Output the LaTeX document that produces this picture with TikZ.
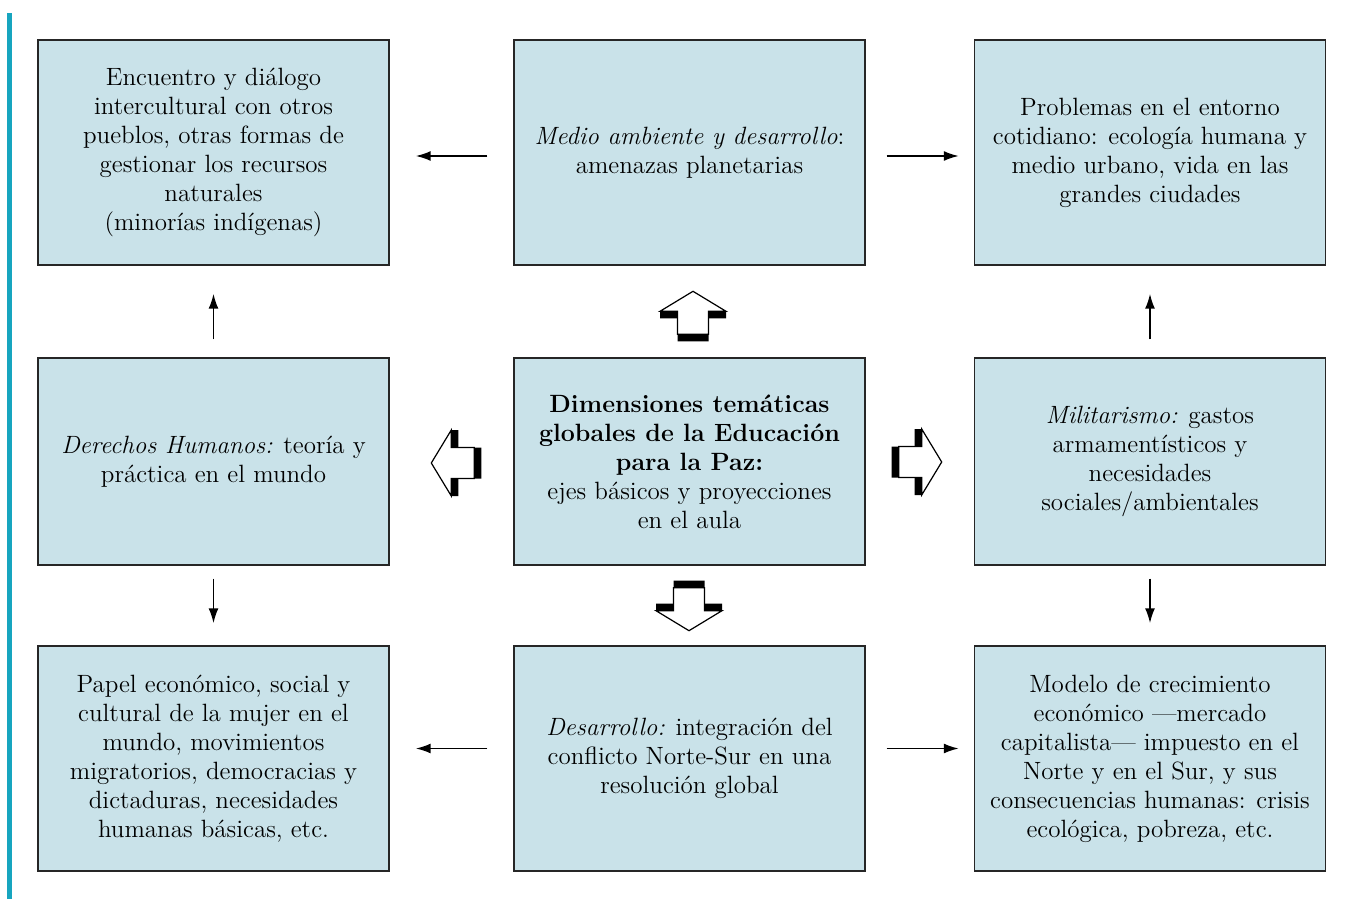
\documentclass[tikz,border=0pt]{standalone}
\usetikzlibrary{arrows.meta}
\definecolor{cajafill}{HTML}{C9E2E9}
\definecolor{barra}{HTML}{17A5BF}
\tikzset{bloque/.pic={
    \fill[black](-7,-15.5)--(16,-15.5)--(16,-33)--(23,-33)--(43,0)--(23,33)--(16,33)--(16,15.5)--(-7,15.5)--cycle;
    \draw[fill=white,line width=0.6pt](0,-15.5)--(23,-15.5)--(23,-33)--(43,0)--(23,33)--(23,15.5)--(0,15.5)--cycle;
}}
\begin{document}
\begin{tikzpicture}[x=0.5pt,y=-0.5pt,
    caja/.style={draw=black!85,line width=0.7pt,fill=cajafill,align=center,inner sep=0pt,
        minimum width=175.5pt,minimum height=112.5pt,font=\fontsize{12.5}{14.5}\selectfont},
    flecha/.style={-{Latex[length=7.5pt,width=5pt]},line width=0.9pt}]
    \useasboundingbox(0,0)rectangle(1351,899);
    \fill[barra](7,13)rectangle(12,899);
    \node[caja](tl)at(213.5,152.5){Encuentro y diálogo\\intercultural con otros\\pueblos, otras formas de\\gestionar los recursos\\naturales\\(minorías indígenas)};
    \node[caja](tm)at(689.5,152.5){\textit{Medio ambiente y desarrollo}:\\amenazas planetarias};
    \node[caja](tr)at(1150,152.5){Problemas en el entorno\\cotidiano: ecología humana y\\medio urbano, vida en las\\grandes ciudades};
    \node[caja,minimum height=103.5pt](ml)at(213.5,461.5){\textit{Derechos Humanos:} teoría y\\práctica en el mundo};
    \node[caja,minimum height=103.5pt](c)at(689.5,461.5){\textbf{Dimensiones temáticas}\\\textbf{globales de la Educación}\\\textbf{para la Paz:}\\ejes básicos y proyecciones\\en el aula};
    \node[caja,minimum height=103.5pt](mr)at(1150,461.5){\textit{Militarismo:} gastos\\armamentísticos y\\necesidades\\sociales/ambientales};
    \node[caja](bl)at(213.5,758.5){Papel económico, social y\\cultural de la mujer en el\\mundo, movimientos\\migratorios, democracias y\\dictaduras, necesidades\\humanas básicas, etc.};
    \node[caja](bm)at(689.5,758.5){\textit{Desarrollo:} integración del\\conflicto Norte-Sur en una\\resolución global};
    \node[caja](br)at(1150,758.5){Modelo de crecimiento\\económico ---mercado\\capitalista--- impuesto en el\\Norte y en el Sur, y sus\\consecuencias humanas: crisis\\ecológica, pobreza, etc.};
    \draw[flecha,shorten <=13pt,shorten >=13pt]([yshift=-1.75pt]tm.west)--([yshift=-1.75pt]tl.east);
    \draw[flecha,shorten <=10.5pt,shorten >=7.5pt]([yshift=-1.75pt]tm.east)--([yshift=-1.75pt]tr.west);
    \draw[flecha,shorten <=13pt,shorten >=13pt]([yshift=5pt]bm.west)--([yshift=5pt]bl.east);
    \draw[flecha,shorten <=10.5pt,shorten >=7.5pt]([yshift=5pt]bm.east)--([yshift=5pt]br.west);
    \draw[flecha,shorten <=9pt,shorten >=14pt](ml.north)--(tl.south);
    \draw[flecha,shorten <=9pt,shorten >=14pt](mr.north)--(tr.south);
    \draw[flecha,shorten <=6.5pt,shorten >=11pt](ml.south)--(bl.north);
    \draw[flecha,shorten <=6.5pt,shorten >=11pt](mr.south)--(br.north);
    \pic[rotate=90]at([shift={(3.5,-23)}]c.north){bloque};
    \pic[rotate=180]at([shift={(-39,1.5)}]c.west){bloque};
    \pic at([shift={(33,0.5)}]c.east){bloque};
    \pic[rotate=-90]at([shift={(-0.5,22)}]c.south){bloque};
\end{tikzpicture}
\end{document}
